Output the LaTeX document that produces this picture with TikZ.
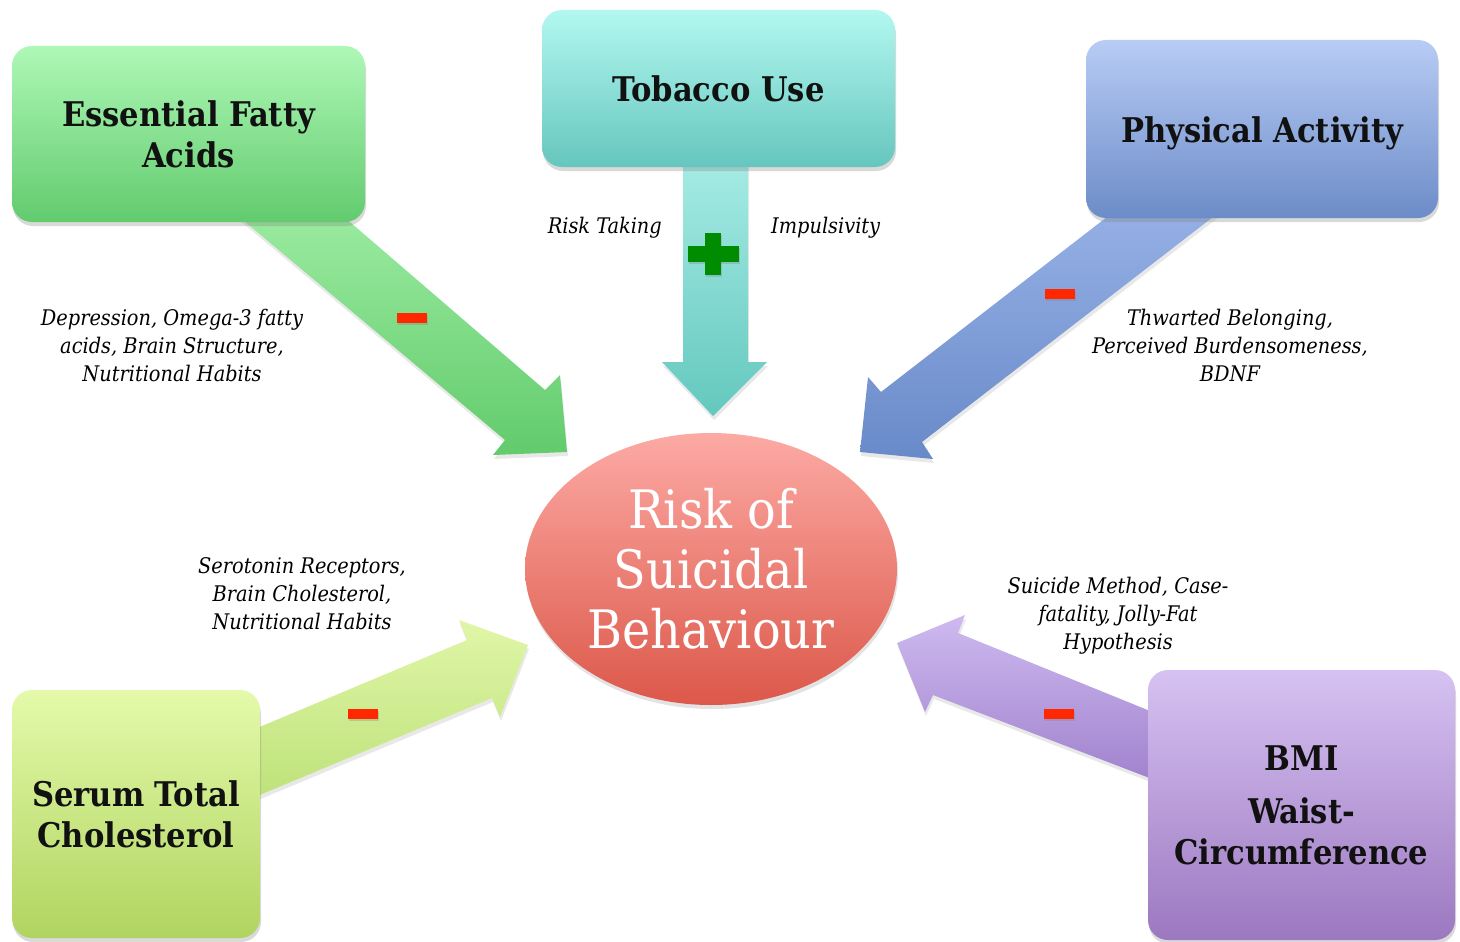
\documentclass[tikz,border=0pt]{standalone}
\usepackage{fontspec}
\setmainfont{DejaVu Serif Condensed}
\usetikzlibrary{shadows,shapes.geometric}
\definecolor{efaT}{RGB}{174,248,182}
\definecolor{efaB}{RGB}{98,203,110}
\definecolor{tobT}{RGB}{178,248,240}
\definecolor{tobB}{RGB}{102,198,190}
\definecolor{phyT}{RGB}{184,204,245}
\definecolor{phyB}{RGB}{108,140,200}
\definecolor{serT}{RGB}{228,250,170}
\definecolor{serB}{RGB}{176,212,96}
\definecolor{bmiT}{RGB}{214,194,242}
\definecolor{bmiB}{RGB}{156,120,192}
\definecolor{ellT}{RGB}{252,170,164}
\definecolor{ellB}{RGB}{220,88,74}
\definecolor{aEfaT}{RGB}{155,235,160}
\definecolor{aEfaB}{RGB}{98,203,108}
\definecolor{aTobT}{RGB}{165,235,228}
\definecolor{aTobB}{RGB}{100,200,190}
\definecolor{aPhyT}{RGB}{150,176,230}
\definecolor{aPhyB}{RGB}{104,138,200}
\definecolor{aSerT}{RGB}{224,246,168}
\definecolor{aSerB}{RGB}{190,226,122}
\definecolor{aBmiT}{RGB}{206,186,240}
\definecolor{aBmiB}{RGB}{160,130,205}
\definecolor{minusred}{RGB}{255,40,0}
\definecolor{plusgreen}{RGB}{0,140,0}
\definecolor{txt}{RGB}{17,17,17}
\tikzset{
  box/.style={rectangle, rounded corners=20pt, inner sep=0pt, align=center,
    text=txt, font=\fontsize{34}{41}\selectfont\bfseries,
    drop shadow={opacity=0.3, shadow xshift=1pt, shadow yshift=-4pt}},
  blockarrow/.style={draw=none, drop shadow={opacity=0.18, shadow xshift=1pt, shadow yshift=-4pt}},
  label/.style={align=center, text=black, font=\fontsize{21.5}{28}\selectfont\itshape, inner sep=0pt},
  minus/.style={rectangle, fill=minusred, minimum width=30pt, minimum height=10pt, inner sep=0pt,
    drop shadow={opacity=0.3, shadow xshift=1pt, shadow yshift=-2pt}},
  plusbar/.style={rectangle, inner sep=0pt, fill=plusgreen},
}
\begin{document}
\begin{tikzpicture}[x=1pt,y=-1pt]
\useasboundingbox (0,0) rectangle (1460,942);
% block arrows
\path[blockarrow, top color=aEfaT, bottom color=aEfaB]
  (231,210) -- (505,440) -- (493,455) -- (567,452) -- (560,375) -- (545,390) -- (336,210) -- cycle;
\path[blockarrow, top color=aTobT, bottom color=aTobB]
  (683,160) -- (683,362) -- (662,362) -- (713,416) -- (767,362) -- (748,362) -- (748,160) -- cycle;
\path[blockarrow, top color=aPhyT, bottom color=aPhyB]
  (1116,210) -- (881,392) -- (868,377) -- (860,452) -- (933,459) -- (922,442) -- (1222,210) -- cycle;
\path[blockarrow, top color=aSerT, bottom color=aSerB]
  (250,731) -- (467,640) -- (459,620) -- (528,645) -- (500,717) -- (492,698) -- (250,799) -- cycle;
\path[blockarrow, top color=aBmiT, bottom color=aBmiB]
  (1160,715) -- (958,633) -- (965,615) -- (897,643) -- (925,712) -- (933,695) -- (1160,782) -- cycle;
% boxes
\node[box, top color=efaT, bottom color=efaB, minimum width=353pt, minimum height=176pt]
  (efa) at (188.5,134) {Essential Fatty\\Acids};
\node[box, top color=tobT, bottom color=tobB, minimum width=353pt, minimum height=157pt]
  (tob) at (718.5,88.5) {Tobacco Use};
\node[box, top color=phyT, bottom color=phyB, minimum width=352pt, minimum height=178pt]
  (phy) at (1262,129) {\raisebox{-4pt}[\height][\depth]{Physical Activity}};
\node[box, top color=serT, bottom color=serB, minimum width=248pt, minimum height=248pt]
  (ser) at (136,814) {Serum Total\\Cholesterol};
\node[box, top color=bmiT, bottom color=bmiB, minimum width=307pt, minimum height=270pt]
  (bmi) at (1301.5,805) {BMI\\[12pt]Waist-\\Circumference};
% central ellipse
\node[ellipse, top color=ellT, bottom color=ellB, minimum width=372pt, minimum height=272pt,
  inner sep=0pt, align=center, text=white, font=\fontsize{53}{60}\selectfont,
  drop shadow={opacity=0.22, shadow xshift=1pt, shadow yshift=-4pt}]
  (risk) at (711,569) {Risk of\\Suicidal\\Behaviour};
% signs
\node[minus] (m1) at (412,318) {};
\node[minus] (m2) at (1060,294) {};
\node[minus] (m3) at (363,714) {};
\node[minus] (m4) at (1059,714) {};
\node[plusbar, minimum width=51pt, minimum height=16pt,
  drop shadow={opacity=0.3, shadow xshift=1pt, shadow yshift=-2pt}] (plush) at (713,254) {};
\node[plusbar, minimum width=16pt, minimum height=42pt,
  drop shadow={opacity=0.3, shadow xshift=1pt, shadow yshift=-2pt}] (plusv) at (713,254) {};
\node[plusbar, minimum width=51pt, minimum height=16pt] (plush2) at (plush) {};
% labels
\node[label, anchor=east] (lrisk) at (662,228) {Risk Taking};
\node[label, anchor=west] (limp) at (771,228) {Impulsivity};
\node[label] (lefa) at (172,345) {Depression, Omega-3 fatty\\acids, Brain Structure,\\Nutritional Habits};
\node[label] (lphy) at (1230,345) {Thwarted Belonging,\\Perceived Burdensomeness,\\BDNF};
\node[label] (lser) at (302,594) {Serotonin Receptors,\\Brain Cholesterol,\\Nutritional Habits};
\node[label] (lbmi) at (1118,616) {Suicide Method, Case-\\fatality, Jolly-Fat\\Hypothesis};
\end{tikzpicture}
\end{document}
